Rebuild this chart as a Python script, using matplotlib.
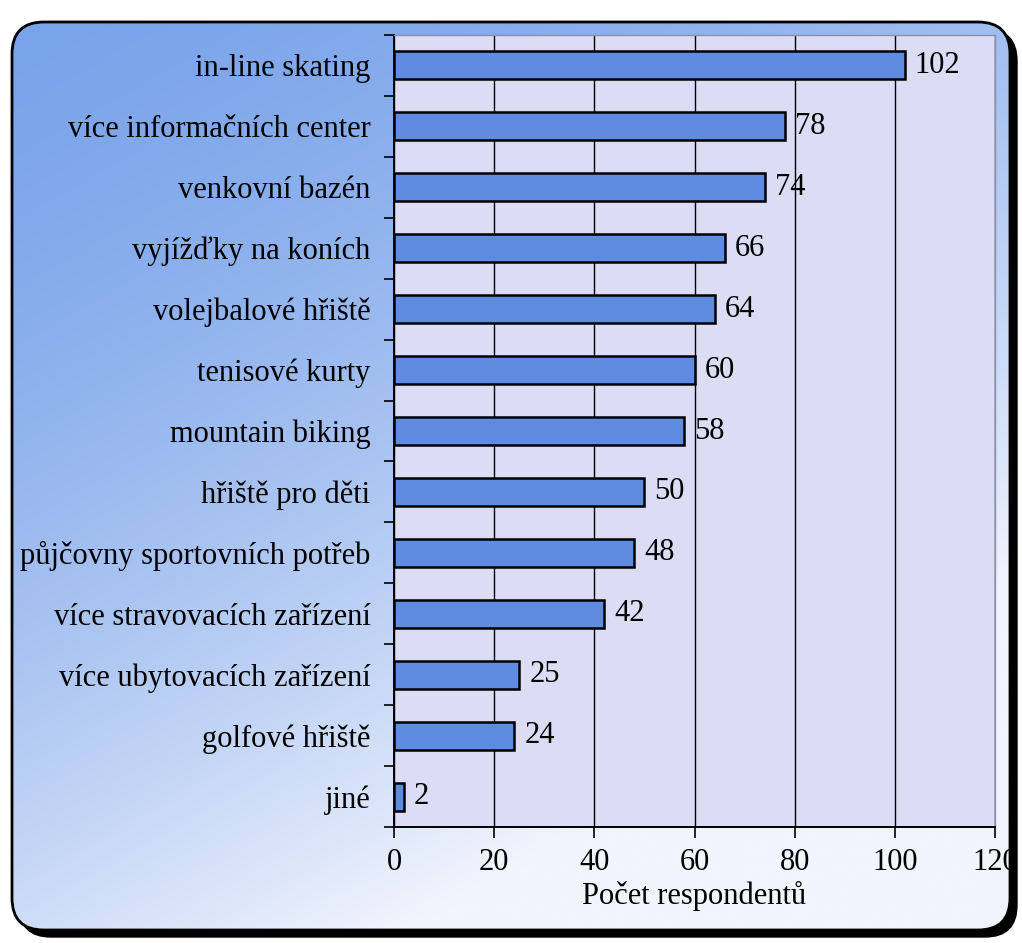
import numpy as np
import matplotlib.pyplot as plt
from matplotlib.patches import FancyBboxPatch

categories = ["in-line skating", "více informačních center", "venkovní bazén",
              "vyjížďky na koních", "volejbalové hřiště", "tenisové kurty",
              "mountain biking", "hřiště pro děti", "půjčovny sportovních potřeb",
              "více stravovacích zařízení", "více ubytovacích zařízení",
              "golfové hřiště", "jiné"]
values = [102, 78, 74, 66, 64, 60, 58, 50, 48, 42, 25, 24, 2]
xticks = [0, 20, 40, 60, 80, 100, 120]
xlabel = "Počet respondentů"

FONT = ["Liberation Serif", "DejaVu Serif"]
FS = 22

W, H = 1022, 943
fig = plt.figure(figsize=(W / 100, H / 100), dpi=100)

# background panel (pixel coordinates)
bg = fig.add_axes([0, 0, 1, 1])
bg.set_xlim(0, W)
bg.set_ylim(H, 0)
bg.axis("off")

bx0, by0, bw, bh = 12, 22, 998, 908
shadow = FancyBboxPatch((bx0 + 7, by0 + 7), bw, bh,
                        boxstyle="round,pad=0,rounding_size=32",
                        fc="black", ec="black", lw=1, zorder=1)
bg.add_patch(shadow)
box = FancyBboxPatch((bx0, by0), bw, bh,
                     boxstyle="round,pad=0,rounding_size=32",
                     fc="none", ec="black", lw=2, zorder=3)
bg.add_patch(box)

yy, xx = np.mgrid[0:1:300j, 0:1:300j]
t = np.clip(0.5 * xx + 0.8 * yy, 0, 1) ** 1.6
c0 = np.array([122, 164, 234]) / 255
c1 = np.array([242, 245, 253]) / 255
img = c0 + (c1 - c0) * t[..., None]
im = bg.imshow(img, extent=(bx0, bx0 + bw, by0 + bh, by0), aspect="auto",
               interpolation="bilinear", zorder=2)
clip = FancyBboxPatch((bx0, by0), bw, bh,
                      boxstyle="round,pad=0,rounding_size=32",
                      fc="none", ec="none", transform=bg.transData)
im.set_clip_path(clip)

# main chart axes
left, right = 394, 995
top, bottom = 35, 827
ax = fig.add_axes([left / W, 1 - bottom / H, (right - left) / W, (bottom - top) / H])
ax.set_facecolor("#dcdcf4")

y = np.arange(len(categories))
ax.barh(y, values, height=0.46, color="#5f8ce1", edgecolor="black",
        linewidth=1.8, zorder=3)
for yi, v in zip(y, values):
    ax.text(v + 2.0, yi, str(v), va="center", ha="left",
            fontsize=FS, family=FONT, zorder=4)

ax.set_xlim(0, 120)
ax.set_ylim(len(categories) - 0.5, -0.5)
ax.set_xticks(xticks)
ax.set_xticklabels([str(v) for v in xticks], family=FONT, fontsize=FS)
ax.set_yticks(y)
ax.set_yticklabels(categories, family=FONT, fontsize=FS)
ax.set_yticks(np.arange(-0.5, len(categories), 1), minor=True)
ax.tick_params(axis="y", which="major", length=0, pad=17)
ax.tick_params(axis="y", which="minor", length=7, width=1.2, direction="out")
ax.tick_params(axis="x", which="major", length=8, width=1.2, direction="out", pad=7)
ax.grid(axis="x", color="black", linewidth=1.0, zorder=1)
ax.set_axisbelow(True)

for s in ["left", "bottom"]:
    ax.spines[s].set_color("black")
    ax.spines[s].set_linewidth(1.4)
for s in ["top", "right"]:
    ax.spines[s].set_color("#8a8fb0")
    ax.spines[s].set_linewidth(1.0)

ax.set_xlabel(xlabel, family=FONT, fontsize=FS, labelpad=3)

fig.savefig("out.png", dpi=100)
